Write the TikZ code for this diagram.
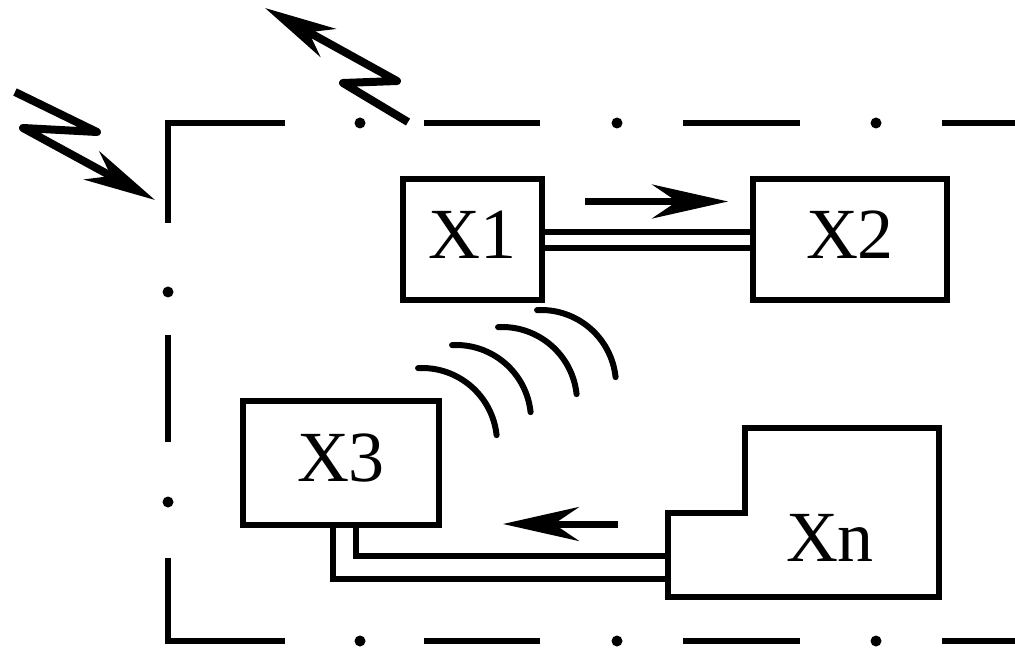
\documentclass[tikz,border=0pt]{standalone}
\usepackage{fontspec}
\setmainfont{Liberation Serif}
\usetikzlibrary{arrows.meta}
\begin{document}
\begin{tikzpicture}[x=1pt,y=1pt,
  box/.style={draw, line width=6pt, rectangle, inner sep=0pt,
    font=\fontsize{72}{80}\selectfont, text depth=10pt},
  lbl/.style={inner sep=0pt, font=\fontsize{72}{80}\selectfont},
  frame/.style={line width=5.5pt, line join=miter},
  dot/.style={fill=black},
  wire/.style={double, line width=6pt, double distance=10pt},
  wireL/.style={double, line width=6pt, double distance=17pt, line join=miter},
  flow/.style={line width=7pt, -{Stealth[length=76pt,width=34pt,inset=25pt]}},
  bolt/.style={line width=8pt, line join=round,
    -{Stealth[length=72pt,width=32pt,inset=22pt]}},
  wave/.style={line width=6pt, line cap=round}
]
\useasboundingbox (0,0) rectangle (1015,-652);

% dash-dot enclosure, open to the right
\draw[frame] (285,-123) -- (168,-123) -- (168,-223);
\draw[frame] (168,-558) -- (168,-641) -- (285,-641);
\draw[frame] (168,-335) -- (168,-442);
\foreach \y in {-123,-641} {
  \draw[frame] (424,\y) -- (540,\y);
  \draw[frame] (683,\y) -- (800,\y);
  \draw[frame] (942,\y) -- (1015,\y);
  \foreach \x in {360,617,876} \fill[dot] (\x,\y) circle (5.5);
}
\foreach \y in {-292,-502} \fill[dot] (168,\y) circle (5.5);

% radio links into and out of the enclosure
\draw[bolt] (15,-92) -- (97,-132) -- (23,-128) -- (155,-200);
\draw[bolt] (408,-122) -- (343,-83) -- (397,-81) -- (265,-8);

% blocks
\node[box, minimum width=139, minimum height=121] (X1) at (472.5,-240) {X1};
\node[box, minimum width=194, minimum height=121] (X2) at (850,-240) {X2};
\node[box, minimum width=196, minimum height=124] (X3) at (341,-463) {X3};
\node[lbl] (Xn) at (830,-538) {Xn};
\coordinate (xnport) at (668,-567.5);
\coordinate (xnstep) at (668,-513);

% wired links
\draw[wire] (X1.east) -- (X2.west);
\draw[wireL] ([xshift=3.5pt]X3.south) |- (xnport);

% stepped outline of block Xn
\draw[line width=6pt, line join=miter]
  (745,-428) -- (939,-428) -- (939,-597) -- (668,-597)
  -- (xnstep) -- (745,-513) -- cycle;

% direction of transfer
\draw[flow] ([shift={(40,38.5)}]X1.east) -- ([shift={(-22,38.5)}]X2.west);
\draw[flow] ([shift={(-50,-11)}]xnstep) -- ([shift={(61,-61)}]X3.east);

% wireless link from X1
\foreach \cx/\cy in {422/-443, 456/-420, 502/-402, 541/-385}
  \draw[wave] (\cx,\cy) ++(93:75) arc[start angle=93, end angle=6, radius=75];
\end{tikzpicture}
\end{document}
